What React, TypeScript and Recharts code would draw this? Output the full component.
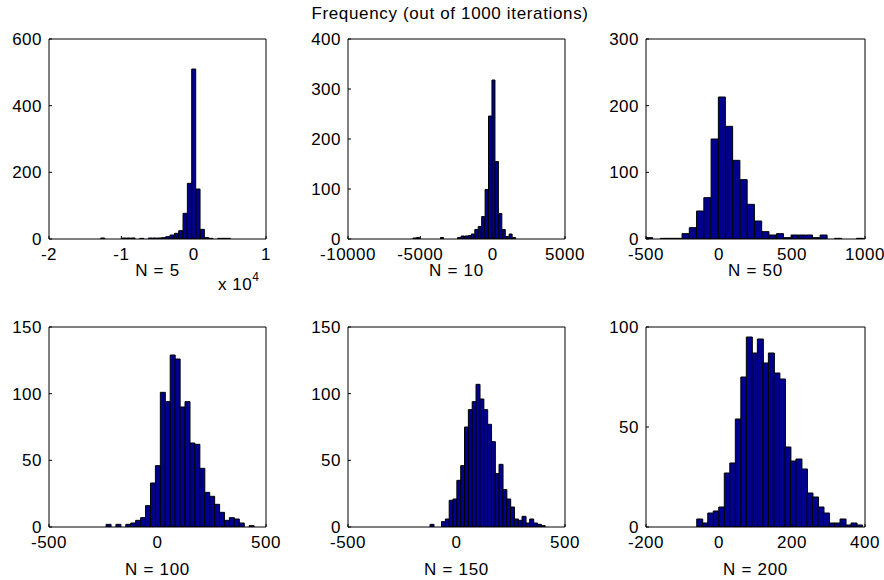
import React from 'react';
import { BarChart, Bar, XAxis, YAxis } from 'recharts';

const FONT = '"Liberation Sans", Arial, Helvetica, sans-serif';
const BAR_FILL = '#00008F';

// ---- N = 5 ----
const n5Counts = [3, 0, 0, 0, 0, 3, 3, 3, 0, 2, 0, 3, 3, 3, 4, 7, 12, 17, 25, 77, 167, 510, 150, 29, 4, 2, 0, 2, 2, 2];
const n5Range = [-12850, 5120];
const n5XTicks = [-20000, -10000, 0, 10000];
const n5YTicks = [0, 200, 400, 600];

// ---- N = 10 ----
const n10Counts = [2, 3, 0, 0, 0, 0, 0, 0, 3, 0, 0, 0, 0, 3, 6, 6, 7, 10, 19, 25, 45, 99, 246, 318, 155, 51, 19, 5, 10, 3];
const n10Range = [-5507, 1613];
const n10XTicks = [-10000, -5000, 0, 5000];
const n10YTicks = [0, 100, 200, 300, 400];

// ---- N = 50 ----
const n50Counts = [2, 0, 1, 1, 1, 8, 17, 42, 62, 150, 213, 169, 118, 89, 52, 27, 11, 6, 8, 2, 6, 6, 6, 2, 6, 0, 1, 0, 0, 1];
const n50Range = [-502, 991];
const n50XTicks = [-500, 0, 500, 1000];
const n50YTicks = [0, 100, 200, 300];

// ---- N = 100 ----
const n100Counts = [2, 0, 2, 0, 2, 3, 5, 7, 16, 33, 46, 101, 94, 129, 126, 90, 94, 63, 62, 44, 26, 23, 17, 11, 5, 7, 6, 3, 0, 1];
const n100Range = [-237, 445];
const n100XTicks = [-500, 0, 500];
const n100YTicks = [0, 50, 100, 150];

// ---- N = 150 ----
const n150Counts = [2, 0, 0, 4, 6, 20, 21, 35, 46, 75, 88, 94, 107, 96, 88, 77, 64, 40, 47, 28, 21, 15, 6, 5, 8, 3, 6, 3, 2, 1];
const n150Range = [-122, 408];
const n150XTicks = [-500, 0, 500];
const n150YTicks = [0, 50, 100, 150];

// ---- N = 200 ----
const n200Counts = [4, 2, 7, 8, 10, 27, 32, 54, 75, 95, 87, 94, 82, 87, 77, 74, 40, 33, 34, 29, 17, 15, 10, 7, 2, 2, 4, 1, 2, 1];
const n200Range = [-61, 392];
const n200XTicks = [-200, 0, 200, 400];
const n200YTicks = [0, 50, 100];

const titleText = 'Frequency (out of 1000 iterations)';

// histogram bins: centres between the data min and max (as MATLAB hist does)
const toBins = (counts: number[], range: number[]) =>
  counts.map((c, i) => ({
    x: range[0] + ((range[1] - range[0]) * (i + 0.5)) / counts.length,
    count: c,
  }));

type Panel = {
  label: string;
  data: { x: number; count: number }[];
  xTicks: number[];
  yTicks: number[];
  plotLeft: number;
  plotTop: number;
  plotW: number;
  plotH: number;
  labelGap: number;
  fmt?: (v: number) => string;
};

const panels: Panel[] = [
  { label: 'N = 5', data: toBins(n5Counts, n5Range), xTicks: n5XTicks, yTicks: n5YTicks, plotLeft: 49, plotTop: 39, plotW: 217, plotH: 200, labelGap: 37, fmt: (v) => String(v / 10000) },
  { label: 'N = 10', data: toBins(n10Counts, n10Range), xTicks: n10XTicks, yTicks: n10YTicks, plotLeft: 348, plotTop: 39, plotW: 217, plotH: 200, labelGap: 37 },
  { label: 'N = 50', data: toBins(n50Counts, n50Range), xTicks: n50XTicks, yTicks: n50YTicks, plotLeft: 646, plotTop: 39, plotW: 219, plotH: 200, labelGap: 37 },
  { label: 'N = 100', data: toBins(n100Counts, n100Range), xTicks: n100XTicks, yTicks: n100YTicks, plotLeft: 49, plotTop: 327, plotW: 217, plotH: 200, labelGap: 48 },
  { label: 'N = 150', data: toBins(n150Counts, n150Range), xTicks: n150XTicks, yTicks: n150YTicks, plotLeft: 348, plotTop: 327, plotW: 217, plotH: 200, labelGap: 48 },
  { label: 'N = 200', data: toBins(n200Counts, n200Range), xTicks: n200XTicks, yTicks: n200YTicks, plotLeft: 646, plotTop: 327, plotW: 219, plotH: 200, labelGap: 48 },
];

const L = 60;
const T = 15;
const R = 30;
const B = 32;
const FS = 17;

const tickStyle = { fill: '#000', fontSize: FS, fontFamily: FONT, letterSpacing: 0.5 };

function Histogram({ p }: { p: Panel }) {
  const xDomain = [p.xTicks[0], p.xTicks[p.xTicks.length - 1]];
  const yDomain = [p.yTicks[0], p.yTicks[p.yTicks.length - 1]];
  return (
    <div style={{ position: 'absolute', left: p.plotLeft - L, top: p.plotTop - T }}>
      <BarChart
        width={p.plotW + L + R}
        height={p.plotH + T + B}
        data={p.data}
        margin={{ top: T - 1, right: R - 1, bottom: 0, left: 0 }}
        barCategoryGap={0}
        barGap={0}
      >
        <XAxis
          xAxisId="b"
          type="number"
          dataKey="x"
          domain={xDomain}
          ticks={p.xTicks}
          allowDataOverflow
          interval={0}
          height={B}
          tickSize={-3}
          tickMargin={12}
          tickFormatter={p.fmt}
          tick={tickStyle}
          stroke="#000"
        />
        <XAxis
          xAxisId="t"
          orientation="top"
          type="number"
          dataKey="x"
          domain={xDomain}
          ticks={p.xTicks}
          allowDataOverflow
          interval={0}
          height={1}
          tickSize={-3}
          tick={false}
          stroke="#000"
        />
        <YAxis
          yAxisId="l"
          type="number"
          domain={yDomain}
          ticks={p.yTicks}
          allowDataOverflow
          interval={0}
          width={L}
          tickSize={-3}
          tickMargin={10}
          tick={tickStyle}
          stroke="#000"
        />
        <YAxis
          yAxisId="r"
          orientation="right"
          type="number"
          domain={yDomain}
          ticks={p.yTicks}
          allowDataOverflow
          interval={0}
          width={1}
          tickSize={-3}
          tick={false}
          stroke="#000"
        />
        <Bar
          xAxisId="b"
          yAxisId="l"
          dataKey="count"
          fill={BAR_FILL}
          stroke="#000"
          strokeWidth={1}
          isAnimationActive={false}
        />
      </BarChart>
    </div>
  );
}

export default function App() {
  return (
    <div
      style={{
        position: 'absolute',
        left: 0,
        top: 0,
        width: 884,
        height: 580,
        overflow: 'hidden',
        background: '#fff',
      }}
    >
      {panels.map((p) => (
        <Histogram key={p.label} p={p} />
      ))}
      <svg
        width={884}
        height={580}
        style={{ position: 'absolute', left: 0, top: 0, pointerEvents: 'none' }}
        fontFamily={FONT}
      >
        <text x={450} y={19} fontSize={FS} textAnchor="middle" fill="#000" letterSpacing={0.65}>
          {titleText}
        </text>
        {panels.map((p) => (
          <text
            key={p.label}
            x={p.plotLeft + p.plotW / 2}
            y={p.plotTop + p.plotH + p.labelGap}
            fontSize={FS}
            textAnchor="middle"
            fill="#000"
            letterSpacing={0.7}
          >
            {p.label}
          </text>
        ))}
        <text x={218} y={290} fontSize={FS} fill="#000" letterSpacing={0.5}>
          x 10
          <tspan dy={-9} fontSize={12}>4</tspan>
        </text>
      </svg>
    </div>
  );
}
